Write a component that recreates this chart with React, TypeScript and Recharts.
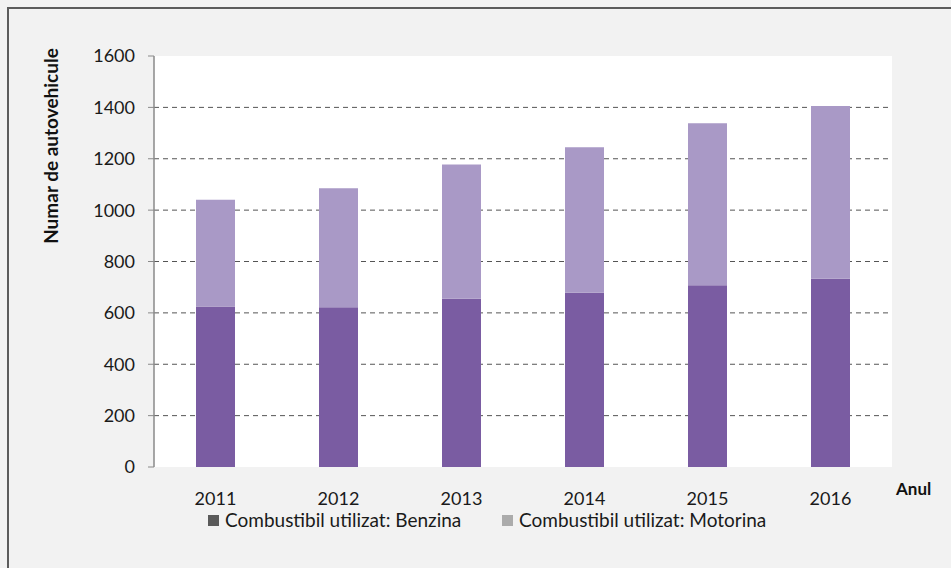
import { BarChart, Bar, XAxis, YAxis, CartesianGrid } from 'recharts'

const years = ['2011', '2012', '2013', '2014', '2015', '2016']
const benzina = [625, 622, 655, 678, 708, 733]
const motorina = [415, 463, 523, 567, 630, 672]
const yTicks = [0, 200, 400, 600, 800, 1000, 1200, 1400, 1600]
const gridValues = [200, 400, 600, 800, 1000, 1200, 1400]
const boundaryTicks = [0, 1, 2, 3, 4, 5, 6]

const seriesNames = ['Combustibil utilizat: Benzina', 'Combustibil utilizat: Motorina']
const legendSwatches = ['#5a5a5a', '#ababab']

const font = "Lato, 'Open Sans', sans-serif"

const data = years.map((y, i) => ({ year: y, benzina: benzina[i], motorina: motorina[i] }))

export default function App() {
  return (
    <div
      style={{
        position: 'absolute',
        left: 0,
        top: 0,
        width: 951,
        height: 568,
        overflow: 'hidden',
        background: '#f2f2f2',
        fontFamily: font
      }}
    >
      <div
        style={{
          position: 'absolute',
          left: 7,
          top: 7,
          width: 1000,
          height: 700,
          border: '2px solid #5c5c5c'
        }}
      />
      <div style={{ position: 'absolute', left: 0, top: 0 }}>
        <BarChart
          width={951}
          height={568}
          data={data}
          margin={{ top: 56, right: 59, left: 0, bottom: 61 }}
        >
          <CartesianGrid
            vertical={false}
            horizontalValues={gridValues}
            stroke="#555"
            strokeDasharray="5 4"
            fill="#ffffff"
          />
          <XAxis
            xAxisId="edges"
            type="number"
            domain={[0, 6]}
            ticks={boundaryTicks}
            height={0}
            tick={false}
            tickSize={6}
            tickLine={{ stroke: '#404040' }}
            axisLine={{ stroke: '#404040', strokeWidth: 1.5 }}
          />
          <XAxis
            dataKey="year"
            height={40}
            axisLine={false}
            tickLine={false}
            tickSize={0}
            tickMargin={25}
            tick={{ fill: '#1a1a1a', fontSize: 18, fontFamily: font }}
          />
          <YAxis
            width={154}
            domain={[0, 1600]}
            ticks={yTicks}
            interval={0}
            axisLine={{ stroke: '#8a8a8a', strokeWidth: 1.5 }}
            tickLine={{ stroke: '#8a8a8a' }}
            tickSize={6}
            tickMargin={13}
            tick={{ fill: '#1a1a1a', fontSize: 18, fontFamily: font }}
          />
          <Bar dataKey="benzina" stackId="a" fill="#7a5ca2" barSize={39} isAnimationActive={false} />
          <Bar dataKey="motorina" stackId="a" fill="#a999c6" barSize={39} isAnimationActive={false} />
        </BarChart>
      </div>
      <div
        style={{
          position: 'absolute',
          left: 50,
          top: 146,
          transform: 'translate(-50%, -50%) rotate(-90deg)',
          fontWeight: 700,
          fontSize: 19,
          color: '#111',
          whiteSpace: 'nowrap'
        }}
      >
        Numar de autovehicule
      </div>
      <div
        style={{
          position: 'absolute',
          left: 896,
          top: 478,
          fontWeight: 700,
          fontSize: 17,
          color: '#111'
        }}
      >
        Anul
      </div>
      {seriesNames.map((name, i) => (
        <div
          key={name}
          style={{
            position: 'absolute',
            left: i === 0 ? 208 : 502,
            top: 512,
            height: 16,
            lineHeight: '16px',
            display: 'flex',
            alignItems: 'center',
            fontSize: 19,
            color: '#1a1a1a',
            whiteSpace: 'nowrap'
          }}
        >
          <span
            style={{
              display: 'inline-block',
              width: 11,
              height: 11,
              background: legendSwatches[i],
              marginRight: 6
            }}
          />
          {name}
        </div>
      ))}
    </div>
  )
}
